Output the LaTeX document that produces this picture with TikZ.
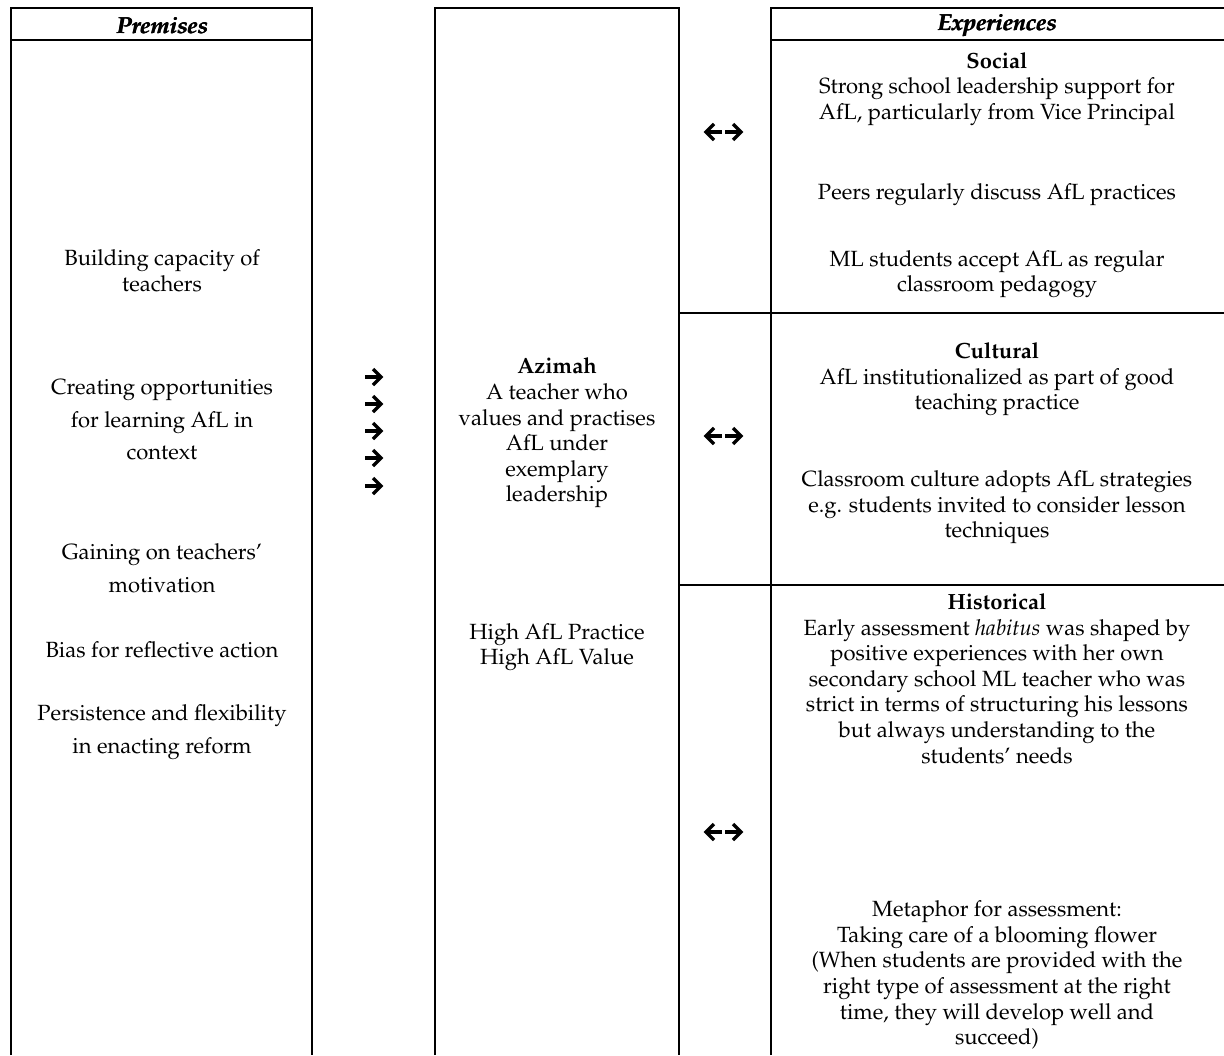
\documentclass[tikz,border=0pt]{standalone}
\usepackage[T1]{fontenc}
\usepackage{mathpazo}
\newcommand\heavytext[1]{\makebox[0pt][l]{#1}\hspace*{0.4pt}\makebox[0pt][l]{#1}\hspace*{-0.2pt}#1}
\begin{document}
\begin{tikzpicture}[x=0.5pt,y=-0.5pt,
  frame/.style={line width=0.8pt},
  txt/.style={align=center,inner sep=0pt,font=\fontsize{11}{12.8}\selectfont},
  ltxt/.style={align=center,inner sep=0pt,font=\fontsize{11}{16.3}\selectfont},
  hdr/.style={inner sep=0pt,font=\fontfamily{ppl}\fontseries{b}\fontshape{it}\fontsize{11.5}{12.8}\selectfont},
  rarr/.pic={\draw[line width=1.7pt] (-8,0)--(7,0); \draw[line width=1.7pt,line join=miter] (0,-8)--(8,0)--(0,8);},
  larr/.pic={\draw[line width=1.7pt] (8,0)--(-7,0); \draw[line width=1.7pt,line join=miter] (0,-8)--(-8,0)--(0,8);},
]
\useasboundingbox (0,0) rectangle (1224,1055);
% frame lines
\draw[frame] (11,1055) -- (11,8) -- (312,8) -- (312,1055);
\draw[frame] (11,40) -- (312,40);
\draw[frame] (435,1055) -- (435,8) -- (679,8) -- (679,1055);
\draw[frame] (771,1055) -- (771,8) -- (1224,8);
\draw[frame] (771,40) -- (1224,40);
\draw[frame] (679,313) -- (1224,313);
\draw[frame] (679,585) -- (1224,585);
% headers
\node[hdr] (hp) at (162,25) {\heavytext{Premises}};
\node[hdr] (he) at (997,25) {\heavytext{Experiences}};
% left column
\node[txt] (p1) at (162,271) {Building capacity of\\teachers};
\node[ltxt] (p2) at (162,420) {Creating opportunities\\for learning AfL in\\context};
\node[ltxt] (p3) at (162,568) {Gaining on teachers'\\motivation};
\node[ltxt] (p4) at (162,650) {Bias for reflective action};
\node[ltxt] (p5) at (162,732) {Persistence and flexibility\\in enacting reform};
% arrows
\pic at (373,377) {rarr};
\pic at (373,404) {rarr};
\pic at (373,431) {rarr};
\pic at (373,458) {rarr};
\pic at (373,486) {rarr};
% middle
\node[txt] (m1) at (557,433) {\textbf{Azimah}\\A teacher who\\values and practises\\AfL under\\exemplary\\leadership};
\node[txt] (m2) at (557,647) {High AfL Practice\\High AfL Value};
% double arrows
\pic at (714,132) {larr}; \pic at (733,132) {rarr};
\pic at (714,436) {larr}; \pic at (733,436) {rarr};
\pic at (714,832) {larr}; \pic at (733,832) {rarr};
% right column
\node[txt] (s1) at (997,89) {\textbf{Social}\\Strong school leadership support for\\AfL, particularly from Vice Principal};
\node[txt] (s2) at (997,195) {Peers regularly discuss AfL practices};
\node[txt] (s3) at (997,274) {ML students accept AfL as regular\\classroom pedagogy};
\node[txt] (c1) at (997,379.5) {\textbf{Cultural}\\AfL institutionalized as part of good\\teaching practice};
\node[txt] (c2) at (997,507.5) {Classroom culture adopts AfL strategies\\e.g. students invited to consider lesson\\techniques};
\node[txt] (h1) at (997,678.5) {\textbf{Historical}\\Early assessment \textit{habitus} was shaped by\\positive experiences with her own\\secondary school ML teacher who was\\strict in terms of structuring his lessons\\but always understanding to the\\students' needs};
\node[txt] (h2) at (997,975) {Metaphor for assessment:\\Taking care of a blooming flower\\(When students are provided with the\\right type of assessment at the right\\time, they will develop well and\\succeed)};
\end{tikzpicture}
\end{document}
